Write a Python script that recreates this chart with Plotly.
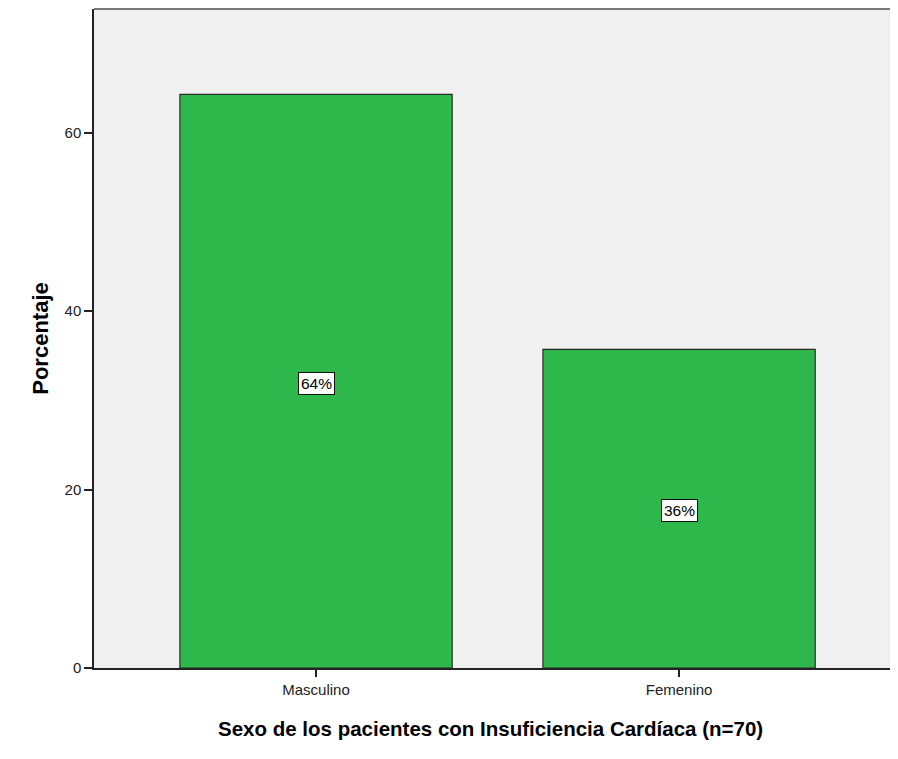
import plotly.graph_objects as go

categories = ["Masculino", "Femenino"]
percentages = [64.29, 35.71]
labels = ["64%", "36%"]
y_ticks = [0, 20, 40, 60]

bar_color = "#2EB84B"
base_font = "Liberation Sans, Arial, sans-serif"

fig = go.Figure()
fig.add_trace(go.Bar(
    x=categories,
    y=percentages,
    width=0.75,
    marker=dict(color=bar_color, line=dict(color="#2a2a2a", width=1.2)),
    hoverinfo="skip",
))

for cat, val, lab in zip(categories, percentages, labels):
    fig.add_annotation(
        x=cat, y=val / 2, text=lab, showarrow=False, yshift=-2,
        font=dict(family=base_font, size=15.5, color="black"),
        bgcolor="white", bordercolor="#111111", borderwidth=1, borderpad=2,
    )

fig.add_annotation(
    xref="paper", yref="paper", x=0.4975, y=0, xanchor="center", yanchor="top",
    yshift=-47, showarrow=False,
    text="<b>Sexo de los pacientes con Insuficiencia Cardíaca (n=70)</b>",
    font=dict(size=20.5, family=base_font, color="black"),
)

fig.add_shape(type="line", xref="paper", yref="paper", x0=0, x1=1, y0=1, y1=1,
              line=dict(color="#777777", width=2))

fig.update_layout(
    width=882, height=743,
    margin=dict(l=86, r=0, t=1, b=83),
    paper_bgcolor="white",
    plot_bgcolor="#F0F0F0",
    showlegend=False,
    font=dict(family=base_font, color="black"),
    xaxis=dict(
        range=[-0.6116, 1.581],
        showgrid=False, zeroline=False,
        showline=True, linecolor="#222222", linewidth=1.5,
        ticks="outside", ticklen=7, tickcolor="#222222", tickwidth=1.5,
        tickfont=dict(size=15, family=base_font, color="#222222"),
    ),
    yaxis=dict(
        range=[0, 73.86],
        tickvals=y_ticks,
        showgrid=False, zeroline=False,
        showline=True, linecolor="#222222", linewidth=1.5,
        ticks="outside", ticklen=8, tickcolor="#222222", tickwidth=1.5,
        tickfont=dict(size=15, family=base_font, color="#222222"),
        title=dict(text="<b>Porcentaje</b>", font=dict(size=22, family=base_font), standoff=10),
    ),
)

fig.write_html("out.html")
